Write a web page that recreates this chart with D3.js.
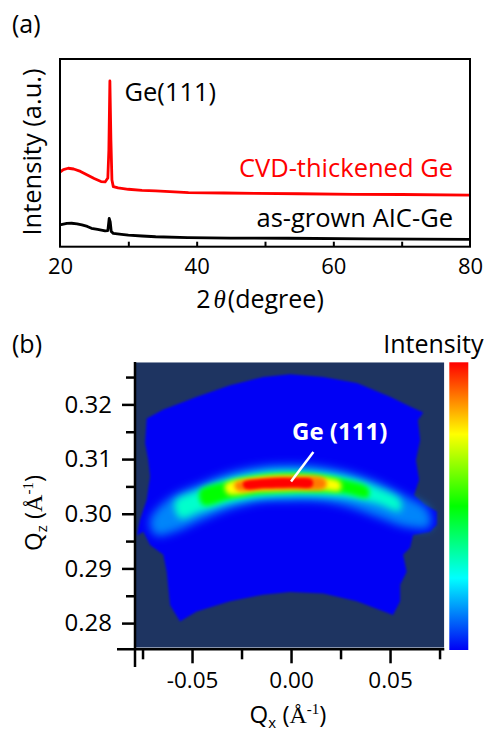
<!DOCTYPE html>
<html>
<head>
<meta charset="utf-8">
<script src="https://cdn.jsdelivr.net/npm/d3@7"></script>
<style>
  body { margin: 0; background: #fff; }
  svg { display: block; }
  text { font-family: "Open Sans", Lato, sans-serif; fill: #000; }
</style>
</head>
<body>
<div id="chart"></div>
<script>
// ---------- panel (a): XRD patterns ----------
const cvdTheta = [20, 20.5, 21.2, 22, 23, 24, 25, 26, 26.6, 27.0, 27.15, 27.3, 27.45, 27.6, 27.8, 28.5, 30, 32, 34, 38.8, 44, 48.5, 55, 63, 70, 80];
const cvdI     = [39.8, 41.1, 41.8, 41.4, 40.1, 38.2, 36.3, 34.7, 34.5, 36.6, 51.5, 88.3, 56.8, 35.5, 32.0, 31.3, 30.6, 30.0, 29.7, 28.8, 28.6, 28.4, 28.2, 27.9, 27.8, 27.5];
const aicTheta = [20, 21, 21.7, 22.5, 23.2, 24, 24.6, 25.5, 26.6, 27.0, 27.2, 27.35, 27.5, 27.8, 29, 30, 32, 34, 38.7, 45, 53.4, 65, 80];
const aicI     = [11.6, 12.4, 12.5, 12.2, 11.6, 10.8, 9.8, 9.2, 8.4, 8.6, 15.1, 13.2, 8.1, 7.1, 6.6, 6.2, 5.7, 5.3, 4.8, 4.6, 4.5, 4.2, 3.9];
const thetaTicks = [20, 40, 60, 80];
const thetaMinor = [30, 40, 50, 60, 70];

// ---------- panel (b): reciprocal space map ----------
const qxTicks = [-0.05, 0, 0.05];
const qxMinor = [-0.075, -0.025, 0.025, 0.075];
const qzTicks = [0.28, 0.29, 0.30, 0.31, 0.32];
const qzMinor = [0.285, 0.295, 0.305, 0.315, 0.325];

// measured area boundary [qx, qz]
const scanArea = [
  [-0.0729, 0.3174], [-0.0647, 0.3190], [-0.0475, 0.3214], [-0.0308, 0.3235], [-0.0141, 0.3250],
  [-0.0005, 0.3255], [0.0162, 0.3250], [0.0333, 0.3239], [0.0500, 0.3214], [0.0601, 0.3196],
  [0.0668, 0.3185], [0.0641, 0.3171], [0.0652, 0.3135], [0.0631, 0.3098], [0.0647, 0.3062],
  [0.0621, 0.3034], [0.0677, 0.3016], [0.0736, 0.3004], [0.0736, 0.2980], [0.0702, 0.2967],
  [0.0616, 0.2961], [0.0601, 0.2938], [0.0566, 0.2925], [0.0584, 0.2894], [0.0551, 0.2870],
  [0.0551, 0.2840], [0.0515, 0.2815], [0.0332, 0.2840], [0.0162, 0.2854], [-0.0005, 0.2857],
  [-0.0141, 0.2852], [-0.0308, 0.2840], [-0.0476, 0.2821], [-0.0561, 0.2803], [-0.0611, 0.2833],
  [-0.0628, 0.2894], [-0.0645, 0.2925], [-0.0712, 0.2943], [-0.0746, 0.2967], [-0.0778, 0.2960],
  [-0.0763, 0.2989], [-0.0729, 0.3025], [-0.0712, 0.3068], [-0.0721, 0.3098], [-0.0737, 0.3129]
];

// iso-intensity outlines of the Ge (111) peak [qx, qz], outer to inner
const peakLevels = [0.13, 0.30, 0.50, 0.75, 0.88, 1.0];
const peakBands = [
  [[-0.0712, 0.2989], [-0.0611, 0.3029], [-0.0460, 0.3054], [-0.0308, 0.3075], [-0.0157, 0.3086], [-0.0005, 0.3089],
   [0.0146, 0.3086], [0.0298, 0.3075], [0.0449, 0.3056], [0.0576, 0.3033], [0.0692, 0.3007],
   [0.0702, 0.2976], [0.0576, 0.2976], [0.0449, 0.2992], [0.0298, 0.3012], [0.0146, 0.3023], [-0.0005, 0.3024],
   [-0.0157, 0.3022], [-0.0308, 0.3009], [-0.0460, 0.2987], [-0.0586, 0.2967], [-0.0687, 0.2961]],
  [[-0.0586, 0.3022], [-0.0460, 0.3044], [-0.0308, 0.3064], [-0.0157, 0.3075], [-0.0005, 0.3078], [0.0146, 0.3075],
   [0.0298, 0.3065], [0.0439, 0.3047], [0.0551, 0.3025],
   [0.0551, 0.3005], [0.0439, 0.3018], [0.0298, 0.3029], [0.0146, 0.3033], [-0.0005, 0.3033], [-0.0157, 0.3030],
   [-0.0308, 0.3020], [-0.0460, 0.3003], [-0.0561, 0.2992]],
  [[-0.0460, 0.3042], [-0.0308, 0.3060], [-0.0157, 0.3070], [-0.0005, 0.3074], [0.0146, 0.3071], [0.0273, 0.3062], [0.0389, 0.3047],
   [0.0389, 0.3030], [0.0273, 0.3037], [0.0146, 0.3039], [-0.0005, 0.3039], [-0.0157, 0.3036], [-0.0308, 0.3027], [-0.0444, 0.3016]],
  [[-0.0333, 0.3053], [-0.0167, 0.3067], [-0.0005, 0.3070], [0.0146, 0.3067], [0.0248, 0.3058],
   [0.0248, 0.3043], [0.0146, 0.3044], [-0.0005, 0.3043], [-0.0167, 0.3041], [-0.0318, 0.3036]],
  [[-0.0283, 0.3056], [-0.0146, 0.3065], [-0.0005, 0.3068], [0.0172, 0.3063],
   [0.0172, 0.3047], [-0.0005, 0.3045], [-0.0146, 0.3044], [-0.0273, 0.3043]],
  [[-0.0242, 0.3057], [-0.0131, 0.3064], [-0.0005, 0.3065], [0.0106, 0.3062],
   [0.0106, 0.3050], [-0.0005, 0.3048], [-0.0131, 0.3047], [-0.0232, 0.3046]]
];
const peakBlur = [5, 3.5, 2.8, 2.4, 2, 1.8];
const peakPos = [0.0, 0.3059];
const labelPos = [0.0113, 0.3113];

const jetStops = [0, 0.25, 0.5, 0.75, 1];
const jetColors = ["#0000f5", "#00ffff", "#00ff00", "#ffff00", "#ff0000"];

// ---------- drawing ----------
const W = 486, H = 740;
const svg = d3.select("#chart").append("svg").attr("width", W).attr("height", H);
const defs = svg.append("defs");
const jet = d3.scaleLinear().domain(jetStops).range(jetColors).clamp(true);
const hyphenFmt = d => d3.format(".2f")(d).replace("−", "-");

// ----- panel (a)
const x = d3.scaleLinear().domain([20, 80]).range([60, 470]);
const y = d3.scaleLinear().domain([0, 100]).range([246.7, 59]);

svg.append("text").attr("x", 12).attr("y", 33).style("font-size", "25px").text("(a)");

const line = d3.line().x(d => x(d[0])).y(d => y(d[1]));
svg.append("path")
  .datum(d3.zip(aicTheta, aicI))
  .attr("fill", "none").attr("stroke", "#000").attr("stroke-width", 2.8)
  .attr("stroke-linejoin", "round")
  .attr("d", line);
svg.append("path")
  .datum(d3.zip(cvdTheta, cvdI))
  .attr("fill", "none").attr("stroke", "#ff0000").attr("stroke-width", 2.8)
  .attr("stroke-linejoin", "round")
  .attr("d", line);

svg.append("rect")
  .attr("x", 60).attr("y", 59).attr("width", 410).attr("height", 187.7)
  .attr("fill", "none").attr("stroke", "#000").attr("stroke-width", 2);

const axA = svg.append("g").attr("transform", "translate(0,246.7)")
  .call(d3.axisBottom(x).tickValues(thetaTicks).tickSize(0).tickPadding(11.6).tickFormat(d3.format("d")));
axA.select(".domain").remove();
axA.selectAll("text").style("font-size", "22px").style("font-family", "'Open Sans', sans-serif").attr("fill", "#000");

const axAm = svg.append("g").attr("transform", "translate(0,246.7)")
  .call(d3.axisBottom(x).tickValues(thetaMinor).tickSize(-5).tickFormat(""));
axAm.select(".domain").remove();
axAm.selectAll("line").attr("stroke-width", 2);

svg.append("text").attr("x", 41).attr("y", 152)
  .attr("transform", "rotate(-90,41,152)")
  .attr("text-anchor", "middle").style("font-size", "25.5px")
  .text("Intensity (a.u.)");

const xl = svg.append("text").attr("x", 260).attr("y", 308).attr("text-anchor", "middle").style("font-size", "25px");
xl.append("tspan").text("2");
xl.append("tspan").attr("dx", 3).style("font-family", "'Liberation Serif', serif").style("font-style", "italic").text("θ");
xl.append("tspan").attr("dx", 2).text("(degree)");

svg.append("text").attr("x", 124.5).attr("y", 100.5).style("font-size", "25.5px").text("Ge(111)");
svg.append("text").attr("x", 453).attr("y", 176.7).attr("text-anchor", "end")
  .style("font-size", "25.5px").style("fill", "#ff0000").text("CVD-thickened Ge");
svg.append("text").attr("x", 453).attr("y", 226.5).attr("text-anchor", "end")
  .style("font-size", "25.5px").text("as-grown AIC-Ge");

// ----- panel (b)
const qx = d3.scaleLinear().domain([-0.0788, 0.0774]).range([135, 444.3]);
const qz = d3.scaleLinear().domain([0.2755, 0.3277]).range([647.7, 362.3]);

svg.append("text").attr("x", 12).attr("y", 352.7).style("font-size", "25px").text("(b)");

defs.append("clipPath").attr("id", "mapClip").append("rect")
  .attr("x", qx.range()[0]).attr("y", qz.range()[1])
  .attr("width", qx.range()[1] - qx.range()[0]).attr("height", qz.range()[0] - qz.range()[1]);

peakBlur.forEach((s, i) => {
  defs.append("filter").attr("id", "blur" + i)
    .attr("x", "-30%").attr("y", "-150%").attr("width", "160%").attr("height", "400%")
    .append("feGaussianBlur").attr("stdDeviation", s);
});
defs.append("filter").attr("id", "edgeBlur").append("feGaussianBlur").attr("stdDeviation", 0.8);

const map = svg.append("g").attr("clip-path", "url(#mapClip)");
map.append("rect")
  .attr("x", qx.range()[0]).attr("y", qz.range()[1])
  .attr("width", qx.range()[1] - qx.range()[0]).attr("height", qz.range()[0] - qz.range()[1])
  .attr("fill", "#1e3461");

const area = d3.line().x(d => qx(d[0])).y(d => qz(d[1])).curve(d3.curveLinearClosed);
map.append("path")
  .datum(scanArea)
  .attr("d", area)
  .attr("fill", jet(0)).attr("filter", "url(#edgeBlur)");

const band = d3.line().x(d => qx(d[0])).y(d => qz(d[1])).curve(d3.curveCatmullRomClosed);
map.selectAll("path.band")
  .data(peakBands)
  .enter().append("path")
  .attr("class", "band")
  .attr("d", band)
  .attr("fill", (d, i) => jet(peakLevels[i]))
  .attr("filter", (d, i) => `url(#blur${i})`);

map.append("line")
  .attr("x1", qx(labelPos[0])).attr("y1", qz(labelPos[1]))
  .attr("x2", qx(peakPos[0])).attr("y2", qz(peakPos[1]))
  .attr("stroke", "#fff").attr("stroke-width", 2.5);
svg.append("text")
  .attr("x", qx(peakPos[0]) + 1).attr("y", 440)
  .style("font-size", "24px").style("font-weight", "bold").style("fill", "#fff")
  .text("Ge (111)");

// axes
const axL = svg.append("g").attr("transform", "translate(135,0)")
  .call(d3.axisLeft(qz).tickValues(qzTicks).tickSize(13).tickPadding(10).tickFormat(d3.format(".2f")));
axL.select(".domain").remove();
axL.selectAll("line").attr("stroke-width", 2.5);
axL.selectAll("text").style("font-size", "24px").style("font-family", "'Open Sans', sans-serif").attr("fill", "#000");
const axLm = svg.append("g").attr("transform", "translate(135,0)")
  .call(d3.axisLeft(qz).tickValues(qzMinor).tickSize(9).tickFormat(""));
axLm.select(".domain").remove();
axLm.selectAll("line").attr("stroke-width", 2.5);

const axB = svg.append("g").attr("transform", "translate(0,649.3)")
  .call(d3.axisBottom(qx).tickValues(qxTicks).tickSize(14).tickPadding(8.4).tickFormat(hyphenFmt));
axB.select(".domain").remove();
axB.selectAll("line").attr("stroke-width", 2.5);
axB.selectAll("text").style("font-size", "22.5px").style("font-family", "'Open Sans', sans-serif").attr("fill", "#000");
const axBm = svg.append("g").attr("transform", "translate(0,649.3)")
  .call(d3.axisBottom(qx).tickValues(qxMinor).tickSize(10).tickFormat(""));
axBm.select(".domain").remove();
axBm.selectAll("line").attr("stroke-width", 2.5);

svg.append("line").attr("x1", 135).attr("x2", 135).attr("y1", 362).attr("y2", 667)
  .attr("stroke", "#000").attr("stroke-width", 2.5);
svg.append("line").attr("x1", 117).attr("x2", 444.3).attr("y1", 649.3).attr("y2", 649.3)
  .attr("stroke", "#000").attr("stroke-width", 2.5);

// axis titles
const yl = svg.append("text").attr("transform", "translate(42,513) rotate(-90)")
  .attr("text-anchor", "middle").style("font-size", "24px");
yl.append("tspan").text("Q");
yl.append("tspan").attr("dy", 5).style("font-size", "15px").text("z");
yl.append("tspan").attr("dy", -5).text(" (");
yl.append("tspan").style("font-family", "'Liberation Serif', serif").text("Å");
yl.append("tspan").attr("dy", -9).style("font-size", "15px").style("font-family", "'Liberation Serif', serif").text("-1");
yl.append("tspan").attr("dy", 9).text(")");

const xl2 = svg.append("text").attr("x", 288).attr("y", 723)
  .attr("text-anchor", "middle").style("font-size", "24px");
xl2.append("tspan").text("Q");
xl2.append("tspan").attr("dy", 5).style("font-size", "15px").text("x");
xl2.append("tspan").attr("dy", -5).text(" (");
xl2.append("tspan").style("font-family", "'Liberation Serif', serif").text("Å");
xl2.append("tspan").attr("dy", -9).style("font-size", "15px").style("font-family", "'Liberation Serif', serif").text("-1");
xl2.append("tspan").attr("dy", 9).text(")");

// colour bar
const grad = defs.append("linearGradient").attr("id", "jetGrad")
  .attr("x1", 0).attr("y1", 1).attr("x2", 0).attr("y2", 0);
grad.selectAll("stop").data(jetStops).enter().append("stop")
  .attr("offset", d => d).attr("stop-color", d => jet(d));
svg.append("rect").attr("x", 449.3).attr("y", 362.3).attr("width", 19).attr("height", 287.7)
  .attr("fill", "url(#jetGrad)");
svg.append("text").attr("x", 483.5).attr("y", 352.7).attr("text-anchor", "end")
  .style("font-size", "25px").text("Intensity");
</script>
</body>
</html>
